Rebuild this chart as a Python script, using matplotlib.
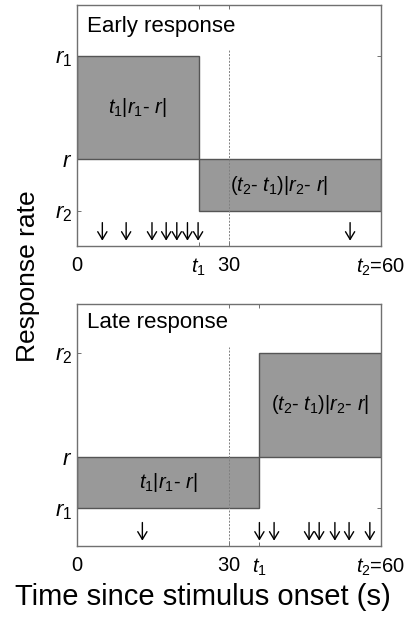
import matplotlib
matplotlib.use("Agg")
import matplotlib.pyplot as plt
from matplotlib.patches import Rectangle

plt.rcParams['font.family'] = ['Liberation Sans', 'DejaVu Sans']
plt.rcParams['mathtext.fontset'] = 'custom'
plt.rcParams['mathtext.it'] = 'Liberation Sans:italic'
plt.rcParams['mathtext.rm'] = 'Liberation Sans'
plt.rcParams['mathtext.sf'] = 'Liberation Sans'

# ---------------- data ----------------
titles = ["Early response", "Late response"]
t_end = 60
t1_vals = [24, 36]
# rate levels (fraction of axis height): first-segment rate, reference r, second-segment rate
r_first = [0.788, 0.156]
r_ref = [0.360, 0.369]
r_second = [0.146, 0.799]
dash_top = [0.813, 0.824]
arrows_early = [5, 9.7, 14.8, 17.6, 19.7, 21.8, 23.9, 53.9]
arrows_late = [12.9, 36.0, 38.9, 45.8, 47.8, 50.9, 53.7, 57.8]
arrow_sets = [arrows_early, arrows_late]
xticks_sets = [[0, 24, 30, 60], [0, 30, 36, 60]]
xticklabels_sets = [[r"$0$", r"$t_{\mathit{1}}$", r"$30$", r"$t_{\mathit{2}}$=60"],
                    [r"$0$", r"$30$", r"$t_{\mathit{1}}$", r"$t_{\mathit{2}}$=60"]]
ytick_names = [r"$r_{\mathit{1}}$", r"$r$", r"$r_{\mathit{2}}$"]
label_first = r"$t_{\mathit{1}}|r_{\mathit{1}}$- $r|$"
label_second = r"($t_{\mathit{2}}$- $t_{\mathit{1}}$)|$r_{\mathit{2}}$- $r$|"
label_second_x = [40, 48]
# --------------------------------------

W, H = 407, 617
fig = plt.figure(figsize=(W / 100, H / 100), dpi=100)

axes_px = [(77, 5, 381, 246), (77, 304, 381, 546)]
title_base = [0.886, 0.899]

fill_c = '#999999'
edge_c = '#555555'
spine_c = '#707070'

for i in range(2):
    l, t, r, b = axes_px[i]
    ax = fig.add_axes([l / W, 1 - b / H, (r - l) / W, (b - t) / H])
    ax.set_xlim(0, t_end)
    ax.set_ylim(0, 1)
    t1 = t1_vals[i]
    # rectangles
    y0 = min(r_ref[i], r_first[i]); h0 = abs(r_first[i] - r_ref[i])
    ax.add_patch(Rectangle((0, y0), t1, h0, facecolor=fill_c, edgecolor=edge_c,
                           lw=1.0, zorder=2))
    y1 = min(r_ref[i], r_second[i]); h1 = abs(r_second[i] - r_ref[i])
    ax.add_patch(Rectangle((t1, y1), t_end - t1, h1, facecolor=fill_c,
                           edgecolor=edge_c, lw=1.0, zorder=2))
    # dashed line at 30
    ax.plot([30, 30], [0, dash_top[i]], color='#808080', lw=0.7,
            dashes=(2, 1.5), zorder=3)
    # arrows
    for xa in arrow_sets[i]:
        ax.annotate('', xy=(xa, 0.022), xytext=(xa, 0.097),
                    arrowprops=dict(arrowstyle='->,head_length=0.55,head_width=0.33',
                                    lw=1.0, color='black', shrinkA=0, shrinkB=0),
                    zorder=4)
    # inner labels
    ax.text(t1 / 2, (r_ref[i] + r_first[i]) / 2, label_first, ha='center',
            va='center', fontsize=14.5, zorder=5)
    ax.text(label_second_x[i], (r_ref[i] + r_second[i]) / 2, label_second,
            ha='center', va='center', fontsize=14.5, zorder=5)
    # title
    ax.text(0.033, title_base[i], titles[i], transform=ax.transAxes,
            fontsize=16, ha='left', va='baseline')
    # ticks
    ax.set_xticks(xticks_sets[i])
    ax.set_xticklabels(xticklabels_sets[i], fontsize=14.5)
    levels = [r_first[i], r_ref[i], r_second[i]]
    order = sorted(range(3), key=lambda k: levels[k])
    ax.set_yticks([levels[k] for k in order])
    ax.set_yticklabels([ytick_names[k] for k in order], fontsize=16)
    ax.tick_params(direction='in', length=3, width=0.7, color=spine_c,
                   top=True, right=True)
    ax.tick_params(axis='x', pad=7.5)
    ax.tick_params(axis='y', pad=3.5)
    for s in ax.spines.values():
        s.set_color(spine_c)
        s.set_linewidth(1.0)

fig.text(28 / W, 0.553, "Response rate", rotation=90, ha='center', va='center',
         fontsize=19)
fig.text(203 / W, 1 - 605 / H, "Time since stimulus onset (s)", ha='center',
         va='baseline', fontsize=21)

fig.savefig("out.png", dpi=100)
